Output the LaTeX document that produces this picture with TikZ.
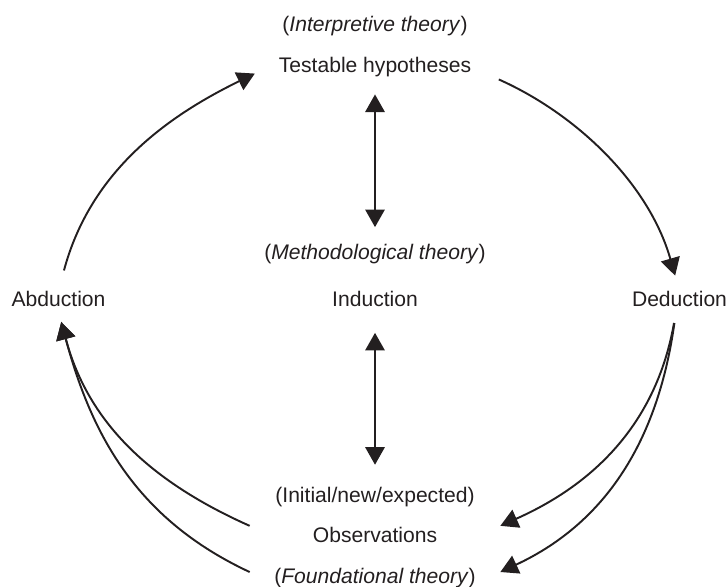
\documentclass[tikz,border=0pt]{standalone}
\usepackage{fontspec}
\setmainfont{Liberation Sans}
\usepackage{xcolor}
\usepackage{tikz}
\definecolor{cyInk}{HTML}{231F20}
\usetikzlibrary{arrows.meta}

\begin{document}
\begin{tikzpicture}[>={Triangle[length=10pt,width=11pt]},
    lbl/.style={font=\fontsize{12}{14}\selectfont, text=cyInk, inner sep=0pt,
      text height=9pt, text depth=2.5pt, anchor=base},
    arr/.style={->, cyInk, line width=1.1pt},
    dbl/.style={<->, cyInk, line width=1.1pt}]
    \useasboundingbox (0,0) rectangle (14.56,11.72);
    \node[lbl] (interp) at (7.5,11.08) {(\textit{Interpretive theory})};
    \node[lbl] (hyp) at (7.5,10.26) {Testable hypotheses};
    \node[lbl] (meth) at (7.5,6.52) {(\textit{Methodological theory})};
    \node[lbl] (ind) at (7.5,5.58) {Induction};
    \node[lbl] (abd) at (1.17,5.58) {Abduction};
    \node[lbl] (ded) at (13.59,5.58) {Deduction};
    \node[lbl] (init) at (7.5,1.68) {(Initial/new/expected)};
    \node[lbl, minimum width=5cm] (obs) at (7.5,0.88) {Observations};
    \node[lbl, minimum width=5cm] (found) at (7.5,0.06) {(\textit{Foundational theory})};
    \draw[dbl, shorten <=9.5pt, shorten >=9.5pt] (hyp.south) -- (meth.north);
    \draw[dbl, shorten <=12pt, shorten >=12pt] (ind.south) -- (init.north);
    \draw[arr, shorten <=12pt, shorten >=15pt] (abd.north) to[out=75, in=206] ([yshift=3pt]hyp.west);
    \draw[arr, shorten <=17pt, shorten >=9pt] (hyp.east) to[out=-24, in=106, looseness=0.95] (ded.north);
    \draw[arr, shorten <=6.5pt] ([xshift=-2pt]ded.south) to[out=260, in=24] (obs.north east);
    \draw[arr, shorten <=6.5pt] ([xshift=-2pt]ded.south) to[out=262, in=25] ([yshift=3pt]found.east);
    \draw[arr, shorten >=6pt] (obs.north west) to[out=156, in=-75] (abd.south);
    \draw[arr, shorten >=6pt] ([yshift=3pt]found.west) to[out=155, in=-75] (abd.south);
  \end{tikzpicture}
\end{document}
